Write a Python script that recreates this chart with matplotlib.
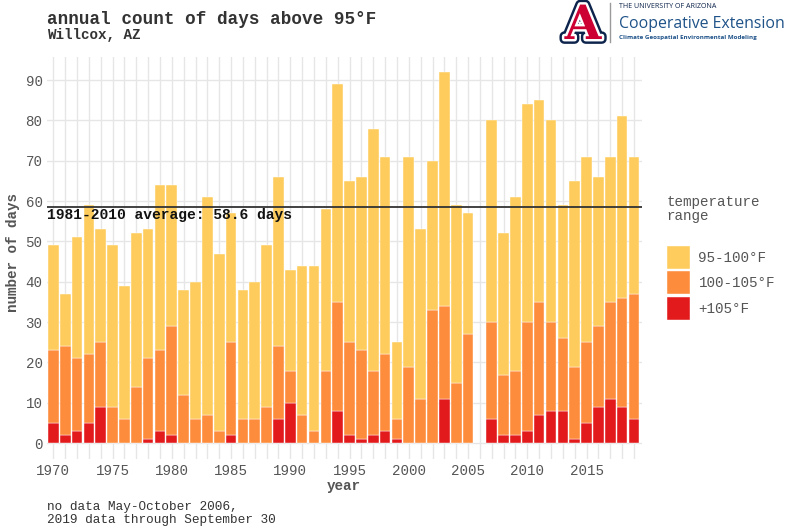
import numpy as np
import matplotlib
matplotlib.use("Agg")
import matplotlib.pyplot as plt
from matplotlib import patheffects as pe

# data (2006 has no data)
years = [y for y in range(1970, 2020) if y != 2006]
days_105 = [5, 2, 3, 5, 9, 0, 0, 0, 1, 3,
            2, 0, 0, 0, 0, 2, 0, 0, 0, 6,
            10, 0, 0, 0, 8, 2, 1, 2, 3, 1,
            0, 0, 0, 11, 0, 0,
            6, 2, 2, 3, 7, 8, 8, 1, 5, 9, 11, 9, 6]
days_100_105 = [18, 22, 18, 17, 16, 9, 6, 14, 20, 20,
                27, 12, 6, 7, 3, 23, 6, 6, 9, 18,
                8, 7, 3, 18, 27, 23, 22, 16, 19, 5,
                19, 11, 33, 23, 15, 27,
                24, 15, 16, 27, 28, 22, 18, 18, 20, 20, 24, 27, 31]
days_95_100 = [26, 13, 30, 37, 28, 40, 33, 38, 32, 41,
               35, 26, 34, 54, 44, 32, 32, 34, 40, 42,
               25, 37, 41, 40, 54, 40, 43, 60, 49, 19,
               52, 42, 37, 58, 44, 30,
               50, 35, 43, 54, 50, 50, 33, 46, 46, 37, 36, 45, 34]
avg_1981_2010 = 58.6

labels = ["95-100°F", "100-105°F", "+105°F"]
colors = ["#FECC5C", "#FD8D3C", "#E31A1C"]

mono = "Liberation Mono"
W, H = 790, 527
fig = plt.figure(figsize=(W / 100, H / 100), dpi=100)
ax = fig.add_axes([46.7 / W, 1 - 459.3 / H, (642 - 46.7) / W, (459.3 - 56.7) / H])

r = np.array(days_105)
o = np.array(days_100_105)
yel = np.array(days_95_100)
b_red = ax.bar(years, r, width=0.9, color=colors[2], edgecolor="white", linewidth=0.3, zorder=2)
b_org = ax.bar(years, o, bottom=r, width=0.9, color=colors[1], edgecolor="white", linewidth=0.3, zorder=2)
b_yel = ax.bar(years, yel, bottom=r + o, width=0.9, color=colors[0], edgecolor="white", linewidth=0.3, zorder=2)

ax.set_xlim(1969.44, 2019.68)
ax.set_ylim(-4.0, 95.8)
ax.set_xticks(range(1970, 2016, 5))
ax.set_xticks(range(1970, 2020), minor=True)
ax.set_yticks(range(0, 91, 10))
ax.grid(axis="x", which="both", color="#e6e6e6", lw=1.0, zorder=0)
ax.grid(axis="y", which="major", color="#e6e6e6", lw=1.0, zorder=0)
ax.set_axisbelow(True)
for s in ax.spines.values():
    s.set_visible(False)
ax.tick_params(which="both", length=0)
ax.tick_params(axis="x", pad=3.5)
ax.tick_params(axis="y", pad=3)
for t in ax.get_xticklabels() + ax.get_yticklabels():
    t.set_fontfamily(mono)
    t.set_fontsize(10.2)
    t.set_color("#555555")

ax.axhline(avg_1981_2010, color="#333333", lw=1.3, zorder=3)
ax.text(1969.46, 55.5, "1981-2010 average: %.1f days" % avg_1981_2010,
        fontfamily=mono, fontsize=10.5, fontweight="bold", color="#111111",
        va="baseline", ha="left", zorder=4)

# titles and labels
fig.text(46.7 / W, 1 - 24 / H, "annual count of days above 95°F", fontfamily=mono,
         fontsize=12.7, fontweight="bold", color="#333333", va="baseline")
fig.text(46.7 / W, 1 - 39.5 / H, "Willcox, AZ", fontfamily=mono,
         fontsize=10.3, fontweight="bold", color="#333333", va="baseline")
fig.text(344 / W, 1 - 490 / H, "year", fontfamily=mono, fontsize=10.3,
         fontweight="bold", color="#555555", ha="center", va="baseline")
fig.text(13.5 / W, 1 - 253 / H, "number of days", fontfamily=mono, fontsize=10.3,
         fontweight="bold", color="#555555", rotation=90, ha="center", va="center")
fig.text(46.7 / W, 1 - 522.5 / H, "no data May-October 2006,\n2019 data through September 30",
         fontfamily=mono, fontsize=9.2, color="#333333", va="baseline", linespacing=1.05)

# legend
fig.text(666.7 / W, 1 - 220 / H, "temperature\nrange", fontfamily=mono, fontsize=10.3,
         color="#555555", va="baseline", ha="left", linespacing=1.0)
leg = fig.legend([b_yel, b_org, b_red], labels, loc="upper left",
                 bbox_to_anchor=(666.7 / W, 1 - 245.7 / H), frameon=False,
                 prop={"family": mono, "size": 10.3},
                 handlelength=1.62, handleheight=2.13, labelspacing=0.15,
                 handletextpad=0.6, borderpad=0, borderaxespad=0)
for t in leg.get_texts():
    t.set_color("#555555")

# logo
fig.text(583 / W, 1 - 39 / H, "A", fontfamily="DejaVu Serif", fontweight="bold",
         fontsize=34, color="#CC0033", ha="center", va="baseline",
         path_effects=[pe.Stroke(linewidth=7, foreground="#0C234B"),
                       pe.Stroke(linewidth=3.5, foreground="white"), pe.Normal()])
fig.add_artist(plt.Line2D([610 / W, 610 / W], [1 - 3 / H, 1 - 42 / H], color="#9a9a9a", lw=1))
logo_texts = [
    (fig.text(619 / W, 1 - 8.5 / H, "THE UNIVERSITY OF ARIZONA", fontfamily="Open Sans",
              fontsize=5.3, color="#0C234B", va="baseline"), 99),
    (fig.text(619 / W, 1 - 28.5 / H, "Cooperative Extension", fontfamily="Open Sans",
              fontsize=12, color="#1E5288", va="baseline"), 165),
    (fig.text(619 / W, 1 - 39 / H, "Climate Geospatial Environmental Modeling", fontfamily="Open Sans",
              fontsize=5.2, fontweight="bold", color="#1E5288", va="baseline"), 138),
]
fig.canvas.draw()
rend = fig.canvas.get_renderer()
for t, target in logo_texts:
    w = t.get_window_extent(rend).width
    t.set_fontsize(t.get_fontsize() * target / w)

fig.savefig("out.png", dpi=100)
